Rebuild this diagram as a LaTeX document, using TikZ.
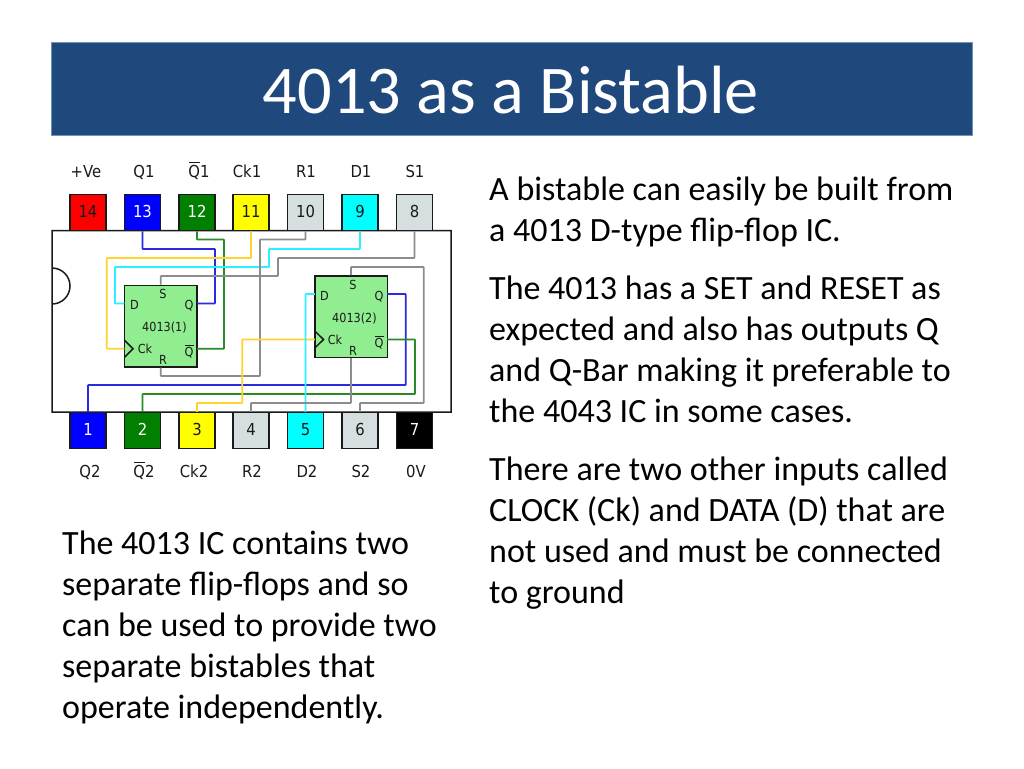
\documentclass[tikz,border=0pt]{standalone}
\usepackage{fontspec}
\setmainfont{Carlito}
\newfontfamily\djfont[FakeStretch=0.9]{DejaVu Sans}
\definecolor{band}{HTML}{1F497D}
\definecolor{bandedge}{HTML}{6F93BC}
\definecolor{chipg}{HTML}{90EE90}
\definecolor{pingrey}{HTML}{D5DFDF}
\definecolor{wyellow}{HTML}{FFD42A}
\definecolor{wcyan}{HTML}{2AF0FF}
\definecolor{wblue}{HTML}{2A2AE0}
\definecolor{wgreen}{HTML}{2A8A2A}
\definecolor{wgrey}{HTML}{8C8C8C}
\definecolor{ink}{HTML}{1A1A1A}
\definecolor{pingreen}{HTML}{007F00}
\definecolor{pincyan}{HTML}{00FFFF}
\definecolor{pinblue}{HTML}{0000FF}
\definecolor{pinyellow}{HTML}{FFFF00}
\definecolor{pinred}{HTML}{FF0000}
\tikzset{
 x=1pt,y=-1pt,
 wire/.style={line width=1.7pt,rounded corners=0.6pt},
 pinbox/.style={draw=ink,line width=1.5pt,minimum width=36pt,minimum height=36pt,inner sep=0pt,text height=12pt,text depth=3pt,font=\djfont\fontsize{16.5}{16.5}\selectfont},
 pinname/.style={inner sep=0pt,text=ink,text height=12pt,text depth=0pt,font=\djfont\fontsize{16.5}{16.5}\selectfont},
 chip/.style={draw=ink,line width=1.5pt,fill=chipg,minimum width=72.5pt,minimum height=81.5pt,inner sep=0pt},
 chiptxt/.style={inner sep=0pt,text=ink,text height=9pt,text depth=0pt,font=\djfont\fontsize{12.5}{12.5}\selectfont},
 para/.style={inner sep=0pt,anchor=north west,align=left,text=black,font=\fontsize{34}{41}\selectfont},
}
\newcommand{\ovq}[1]{\rlap{\kern0.05em\rule[0.86em]{0.68em}{0.07em}}#1}
\begin{document}
\begin{tikzpicture}
\useasboundingbox (0,0) rectangle (1024,768);
\fill[white] (0,0) rectangle (1024,768);
% title
\node[draw=bandedge,line width=1pt,fill=band,minimum width=921pt,minimum height=92pt,inner sep=0pt] (title) at (512,89) {};
\node[inner sep=0pt,text=white,font=\fontsize{68.3}{68.3}\selectfont] (titletext) at (511,90) {4013 as a Bistable};
% body
\draw[ink,line width=1.5pt] (451,230.5) -- (52,230.5) -- (52,304) arc[start angle=90,end angle=-90,radius=18] -- (52,412) -- (451,412) -- cycle;
% chips
\node[chip] (c1) at (160.7,326) {};
\node[chip] (c2) at (351,316.5) {};
\coordinate (c1d) at (124.3,303.5);
\coordinate (c1q) at (197,303.5);
\coordinate (c1ck) at (124.3,348.7);
\coordinate (c1qb) at (197,348.7);
\coordinate (c2d) at (314.8,294);
\coordinate (c2q) at (387.2,294);
\coordinate (c2ck) at (314.8,339.5);
\coordinate (c2qb) at (387.2,339.5);
% top pins
\node[pinbox,fill=pinred,text=ink] (p14) at (88,212.5) {14};
\node[pinbox,fill=pinblue,text=white] (p13) at (142.5,212.5) {13};
\node[pinbox,fill=pingreen,text=white] (p12) at (197,212.5) {12};
\node[pinbox,fill=pinyellow,text=ink] (p11) at (251,212.5) {11};
\node[pinbox,fill=pingrey,text=ink] (p10) at (305.5,212.5) {10};
\node[pinbox,fill=pincyan,text=ink] (p9) at (360,212.5) {9};
\node[pinbox,fill=pingrey,text=ink] (p8) at (414.5,212.5) {8};
% bottom pins
\node[pinbox,fill=pinblue,text=white] (p1) at (88,430.5) {1};
\node[pinbox,fill=pingreen,text=white] (p2) at (142.5,430.5) {2};
\node[pinbox,fill=pinyellow,text=ink] (p3) at (197,430.5) {3};
\node[pinbox,fill=pingrey,text=ink] (p4) at (251,430.5) {4};
\node[pinbox,fill=pincyan,text=ink] (p5) at (305.5,430.5) {5};
\node[pinbox,fill=pingrey,text=ink] (p6) at (360,430.5) {6};
\node[pinbox,fill=black,text=white] (p7) at (414.5,430.5) {7};
% wires
\draw[wire,wblue] (p13.south) -- (142.5,249) -- (215,249) -- (215,303.5) -- (c1q);
\draw[wire,wgreen] (p12.south) -- (197,239.5) -- (224,239.5) -- (224,348.7) -- (c1qb);
\draw[wire,wyellow] (p11.south) -- (251,258) -- (106.7,258) -- (106.7,348.7) -- (c1ck);
\draw[wire,wcyan] (p9.south) -- (360,249) -- (269,249) -- (269,267) -- (115,267) -- (115,303.5) -- (c1d);
\draw[wire,wgrey] (p8.south) -- (414.5,258) -- (278,258) -- (278,276) -- (160.7,276) -- (c1.north);
\draw[wire,wgrey] (p10.south) -- (305.5,239.5) -- (260,239.5) -- (260,376) -- (160.7,376) -- (c1.south);
\draw[wire,wgrey] (c2.north) -- (351,267) -- (423.7,267) -- (423.7,403) -- (360,403) -- (p6.north);
\draw[wire,wblue] (c2q) -- (405.7,294) -- (405.7,385) -- (88,385) -- (p1.north);
\draw[wire,wgreen] (c2qb) -- (415,339.5) -- (415,394) -- (142.5,394) -- (p2.north);
\draw[wire,wyellow] (c2ck) -- (242.3,339.5) -- (242.3,403) -- (197,403) -- (p3.north);
\draw[wire,wcyan] (c2d) -- (305.5,294) -- (p5.north);
\draw[wire,wgrey] (c2.south) -- (351,403) -- (251,403) -- (p4.north);
% clock marks
\draw[ink,line width=1.5pt] (124.3,340) -- (133,348.7) -- (124.3,357.5);
\draw[ink,line width=1.5pt] (314.8,331) -- (323.5,339.5) -- (314.8,348);
% chip 1 text
\node[chiptxt] (c1s) at (163,294) {S};
\node[chiptxt] (c1dt) at (134.5,305) {D};
\node[chiptxt] (c1qt) at (189,305) {Q};
\node[chiptxt] (c1n) at (164.5,327) {4013(1)};
\node[chiptxt] (c1ct) at (145,349) {Ck};
\node[chiptxt] (c1qbt) at (189,352) {\ovq{Q}};
\node[chiptxt] (c1r) at (163,360) {R};
% chip 2 text
\node[chiptxt] (c2s) at (353,285) {S};
\node[chiptxt] (c2dt) at (324.5,296) {D};
\node[chiptxt] (c2qt) at (379,296) {Q};
\node[chiptxt] (c2n) at (354.5,318) {4013(2)};
\node[chiptxt] (c2ct) at (335,340) {Ck};
\node[chiptxt] (c2qbt) at (379,343) {\ovq{Q}};
\node[chiptxt] (c2r) at (353,351) {R};
% top names
\node[pinname] (n14) at (86,171) {+Ve};
\node[pinname] (n13) at (144,171) {Q1};
\node[pinname] (n12) at (199,171) {\ovq{Q}1};
\node[pinname] (n11) at (247,171) {Ck1};
\node[pinname] (n10) at (306,171) {R1};
\node[pinname] (n9) at (361,171) {D1};
\node[pinname] (n8) at (415,171) {S1};
% bottom names
\node[pinname] (n1) at (90,471) {Q2};
\node[pinname] (n2) at (144,471) {\ovq{Q}2};
\node[pinname] (n3) at (194,471) {Ck2};
\node[pinname] (n4) at (252,471) {R2};
\node[pinname] (n5) at (307,471) {D2};
\node[pinname] (n6) at (361,471) {S2};
\node[pinname] (n7) at (416,471) {0V};
% text
\node[para] (t1) at (489,177) {A bistable can easily be built from\\a 4013 D-type flip-flop IC.};
\node[para] (t2) at (489,276) {The 4013 has a SET and RESET as\\expected and also has outputs Q\\and Q-Bar making it preferable to\\the 4043 IC in some cases.};
\node[para] (t3) at (489,457) {There are two other inputs called\\CLOCK (Ck) and DATA (D) that are\\not used and must be connected\\to ground};
\node[para] (t4) at (62,531) {The 4013 IC contains two\\separate flip-flops and so\\can be used to provide two\\separate bistables that\\operate independently.};
\end{tikzpicture}
\end{document}
